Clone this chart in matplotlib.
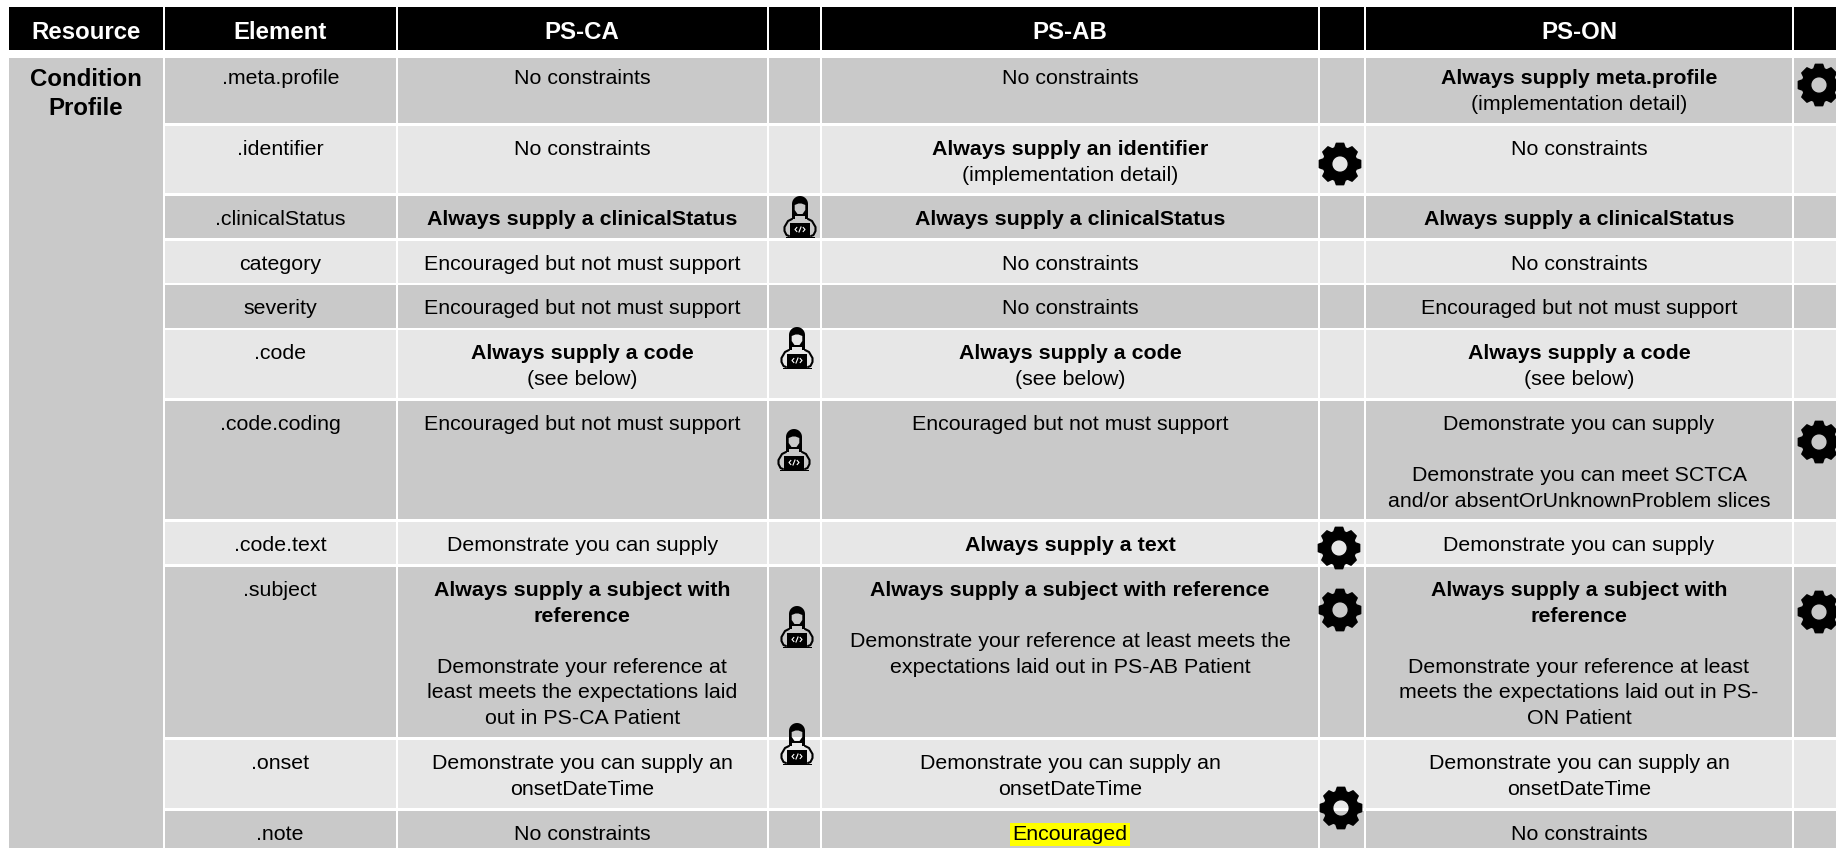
import numpy as np
import matplotlib
matplotlib.use("Agg")
import matplotlib.pyplot as plt
from matplotlib.patches import Rectangle, PathPatch
from matplotlib.path import Path

plt.rcParams['font.family'] = ['Liberation Sans', 'DejaVu Sans']

# table content, a leading * marks a bold line
headers = ["Resource", "Element", "PS-CA", "", "PS-AB", "", "PS-ON", ""]
resource = ["Condition", "Profile"]
elements = [".meta.profile", ".identifier", ".clinicalStatus", "category", "severity", ".code",
            ".code.coding", ".code.text", ".subject", ".onset", ".note"]
ps_ca = [
    ["No constraints"],
    ["No constraints"],
    ["*Always supply a clinicalStatus"],
    ["Encouraged but not must support"],
    ["Encouraged but not must support"],
    ["*Always supply a code", "(see below)"],
    ["Encouraged but not must support"],
    ["Demonstrate you can supply"],
    ["*Always supply a subject with", "*reference", "", "Demonstrate your reference at",
     "least meets the expectations laid", "out in PS-CA Patient"],
    ["Demonstrate you can supply an", "onsetDateTime"],
    ["No constraints"],
]
ps_ab = [
    ["No constraints"],
    ["*Always supply an identifier", "(implementation detail)"],
    ["*Always supply a clinicalStatus"],
    ["No constraints"],
    ["No constraints"],
    ["*Always supply a code", "(see below)"],
    ["Encouraged but not must support"],
    ["*Always supply a text"],
    ["*Always supply a subject with reference", "", "Demonstrate your reference at least meets the",
     "expectations laid out in PS-AB Patient"],
    ["Demonstrate you can supply an", "onsetDateTime"],
    ["Encouraged"],
]
ps_on = [
    ["*Always supply meta.profile", "(implementation detail)"],
    ["No constraints"],
    ["*Always supply a clinicalStatus"],
    ["No constraints"],
    ["Encouraged but not must support"],
    ["*Always supply a code", "(see below)"],
    ["Demonstrate you can supply", "", "Demonstrate you can meet SCTCA",
     "and/or absentOrUnknownProblem slices"],
    ["Demonstrate you can supply"],
    ["*Always supply a subject with", "*reference", "", "Demonstrate your reference at least",
     "meets the expectations laid out in PS-", "ON Patient"],
    ["Demonstrate you can supply an", "onsetDateTime"],
    ["No constraints"],
]

# layout in image pixels
col_edges = [(9, 162.5), (165, 395.5), (397.5, 767), (769, 820), (822, 1318), (1320, 1364), (1366, 1792), (1794, 1836)]
row_edges = [(58, 123), (126, 193), (196, 238), (241, 283), (285, 328), (330, 398), (401, 519), (522, 564),
             (567, 737), (740, 808), (811, 848)]
coder_spots = [(800, 196), (797, 327), (794, 429), (797, 606), (797, 723)]
gear_spots = [(1819, 85), (1340, 164), (1819, 442), (1339, 548), (1340, 610), (1819, 612), (1341, 808)]

DARK = "#C9C9C9"
LIGHT = "#E7E7E7"
BODY_SIZE = 15.36
HEAD_SIZE = 17.28
LINE_H = 25.6


def draw_gear(ax, cx, cy):
    pts = []
    for a in np.radians(np.arange(0, 360, 45)):
        for da, r in [(-18, 17), (-10, 21), (10, 21), (18, 17)]:
            t = a + np.radians(da)
            pts.append((cx + r * np.sin(t), cy - r * np.cos(t)))
    pts.append(pts[0])
    t = np.linspace(0, 2 * np.pi, 41)
    hole = np.column_stack([cx + 8.3 * np.sin(t), cy + 8.3 * np.cos(t)])
    path = Path.make_compound_path(Path(pts, closed=True), Path(hole, closed=True))
    ax.add_patch(PathPatch(path, fc="black", ec="black", lw=1, joinstyle="round"))


def draw_coder(ax, cx, top):
    # hair with the face cut out, open at the neck
    t = np.linspace(np.pi, 0, 25)
    hair = [(cx - 5, top + 20), (cx - 5, top + 23), (cx - 8, top + 23)]
    hair += [(cx + 8 * np.cos(a), top + 8 - 8 * np.sin(a)) for a in t]
    hair += [(cx + 8, top + 23), (cx + 5, top + 23), (cx + 5, top + 20), (cx - 5, top + 20)]
    face = [(cx - 5.3, top + 9), (cx - 5.3, top + 14), (cx - 2.5, top + 18), (cx + 2.5, top + 18),
            (cx + 5.3, top + 14), (cx + 5.3, top + 9), (cx + 1.5, top + 7.5), (cx - 1.5, top + 7.5), (cx - 5.3, top + 9)]
    path = Path.make_compound_path(Path(hair, closed=True), Path(face, closed=True))
    ax.add_patch(PathPatch(path, fc="black", ec="none"))
    # arms either side of the laptop
    for s in (-1, 1):
        ax.plot([cx + s * 8, cx + s * 12, cx + s * 15.5, cx + s * 15.5, cx + s * 13.5, cx + s * 11],
                [top + 23, top + 25, top + 31, top + 35, top + 39, top + 40], color="black", lw=1.5, solid_capstyle="round")
    ax.add_patch(Rectangle((cx - 10, top + 27), 20, 13.5, fc="black", ec="none"))
    ax.add_patch(Rectangle((cx - 14.5, top + 40.7), 29, 1.3, fc="black", ec="none"))
    # the </> on the screen
    ax.plot([cx - 3.2, cx - 5, cx - 3.2], [top + 31.5, top + 33.5, top + 35.5], color="white", lw=0.8)
    ax.plot([cx + 3.2, cx + 5, cx + 3.2], [top + 31.5, top + 33.5, top + 35.5], color="white", lw=0.8)
    ax.plot([cx - 1, cx + 1], [top + 36, top + 31], color="white", lw=0.8)


def cell_text(ax, col, row, lines):
    x = sum(col_edges[col]) / 2
    # first row sits a little higher than the others
    y = row_edges[row][0] + (26 if row == 0 else 29)
    for line in lines:
        if line:
            bold = line.startswith("*")
            txt = line[1:] if bold else line
            kw = {}
            if txt == "Encouraged":
                kw["bbox"] = dict(facecolor="#FFFF00", edgecolor="none", pad=1.5)
            ax.text(x, y, txt, ha="center", va="baseline", fontsize=BODY_SIZE,
                    fontweight="bold" if bold else "normal", color="black", zorder=3, **kw)
        y += LINE_H


fig = plt.figure(figsize=(18.36, 8.48), dpi=100, facecolor="white")
ax = fig.add_axes([0, 0, 1, 1])
ax.set_xlim(0, 1836)
ax.set_ylim(848, 0)
ax.axis("off")

# header band
for (x0, x1), name in zip(col_edges, headers):
    ax.add_patch(Rectangle((x0, 7), x1 - x0, 43, fc="black", ec="none"))
    if name:
        ax.text((x0 + x1) / 2, 39, name, ha="center", va="baseline", fontsize=HEAD_SIZE,
                fontweight="bold", color="white")

# resource column spans all rows
x0, x1 = col_edges[0]
ax.add_patch(Rectangle((x0, 58), x1 - x0, 790, fc=DARK, ec="none"))
for i, word in enumerate(resource):
    ax.text((x0 + x1) / 2, 86.5 + i * 28.8, word, ha="center", va="baseline", fontsize=HEAD_SIZE,
            fontweight="bold", color="black")

for r, (y0, y1) in enumerate(row_edges):
    for (x0, x1) in col_edges[1:]:
        ax.add_patch(Rectangle((x0, y0), x1 - x0, y1 - y0, fc=DARK if r % 2 == 0 else LIGHT, ec="none"))
    cell_text(ax, 1, r, [elements[r]])
    cell_text(ax, 2, r, ps_ca[r])
    cell_text(ax, 4, r, ps_ab[r])
    cell_text(ax, 6, r, ps_on[r])

for cx, top in coder_spots:
    draw_coder(ax, cx, top)
for cx, cy in gear_spots:
    draw_gear(ax, cx, cy)

fig.savefig("out.png", dpi=100, facecolor="white")
